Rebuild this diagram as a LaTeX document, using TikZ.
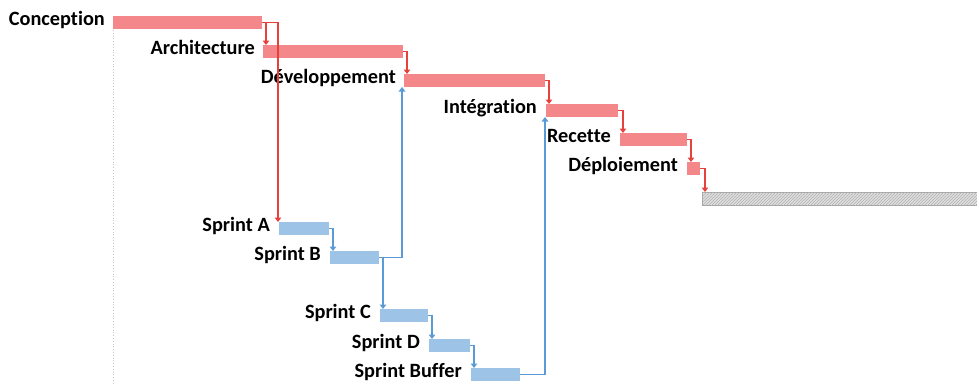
\documentclass[tikz,border=0pt]{standalone}
\usepackage{fontspec}
\setmainfont{Carlito}[Ligatures={NoCommon}]
\usetikzlibrary{arrows.meta,patterns}
\definecolor{barred}{HTML}{F4878A}
\definecolor{linered}{HTML}{E8403A}
\definecolor{barblue}{HTML}{9DC3E6}
\definecolor{lineblue}{HTML}{5B9BD5}
\tikzset{
  bar/.style={anchor=north west, inner sep=0pt, outer sep=0pt, minimum height=13pt},
  redbar/.style={bar, fill=barred},
  bluebar/.style={bar, fill=barblue},
  lbl/.style={anchor=base east, inner sep=0pt, font=\fontsize{20.3}{24}\selectfont\bfseries},
  redlink/.style={draw=linered, line width=1.1pt, -{Triangle[width=6.5pt,length=4.5pt]}},
  bluelink/.style={draw=lineblue, line width=1.1pt, -{Triangle[width=6.5pt,length=4.5pt]}},
}
\begin{document}
\begin{tikzpicture}[x=1pt,y=-1pt]
\useasboundingbox (0,0) rectangle (977,383);
\draw[gray!45, dotted, line width=0.8pt] (113,16) -- (113,383);
% red bars
\node[redbar, minimum width=149pt] (conc) at (113,16) {};
\node[redbar, minimum width=140pt] (arch) at (263,45) {};
\node[redbar, minimum width=141pt] (dev) at (404,74) {};
\node[redbar, minimum width=72pt] (int) at (546,104) {};
\node[redbar, minimum width=67pt] (rec) at (620,133) {};
\node[redbar, minimum width=13pt] (dep) at (687,162) {};
\node[bar, minimum width=276pt, fill=gray!25, draw=gray!70, line width=0.5pt] (tail) at (702,192) {};
\fill[pattern=north east lines, pattern color=gray!60] (tail.north west) rectangle (tail.south east);
% blue bars
\node[bluebar, minimum width=50pt] (sa) at (279,222) {};
\node[bluebar, minimum width=49pt] (sb) at (330,251) {};
\node[bluebar, minimum width=48pt] (sc) at (380,309) {};
\node[bluebar, minimum width=41pt] (sd) at (429,339) {};
\node[bluebar, minimum width=49pt] (buf) at (471,368) {};
% labels
\node[lbl] (lconc) at (105,25) {Conception};
\node[lbl] (larch) at (255,54) {Architecture};
\node[lbl] (ldev) at (396,83) {Développement};
\node[lbl] (lint) at (537,113) {Intégration};
\node[lbl] (lrec) at (611,142) {Recette};
\node[lbl] (ldep) at (678,171) {Déploiement};
\node[lbl] (lsa) at (270,231) {Sprint A};
\node[lbl] (lsb) at (321,260) {Sprint B};
\node[lbl] (lsc) at (371,318) {Sprint C};
\node[lbl] (lsd) at (420,348) {Sprint D};
\node[lbl] (lbuf) at (462,377) {Sprint Buffer};
% red links
\draw[redlink] (conc.east) -| ([xshift=3pt]arch.north west);
\draw[redlink] (conc.east) -| ([xshift=-1pt]sa.north west);
\draw[redlink] (arch.east) -| ([xshift=3pt]dev.north west);
\draw[redlink] (dev.east) -| ([xshift=3pt]int.north west);
\draw[redlink] (int.east) -| ([xshift=3pt]rec.north west);
\draw[redlink] (rec.east) -| ([xshift=4pt]dep.north west);
\draw[redlink] (dep.east) -| ([xshift=3pt]tail.north west);
% blue links
\draw[bluelink] (sa.east) -| ([xshift=3pt]sb.north west);
\draw[bluelink] (sb.east) -| ([xshift=-2pt]dev.south west);
\draw[bluelink] (sb.east) -| ([xshift=3pt]sc.north west);
\draw[bluelink] (sc.east) -| ([xshift=3pt]sd.north west);
\draw[bluelink] (sd.east) -| ([xshift=3pt]buf.north west);
\draw[bluelink] (buf.east) -| ([xshift=-1pt]int.south west);
\end{tikzpicture}
\end{document}
